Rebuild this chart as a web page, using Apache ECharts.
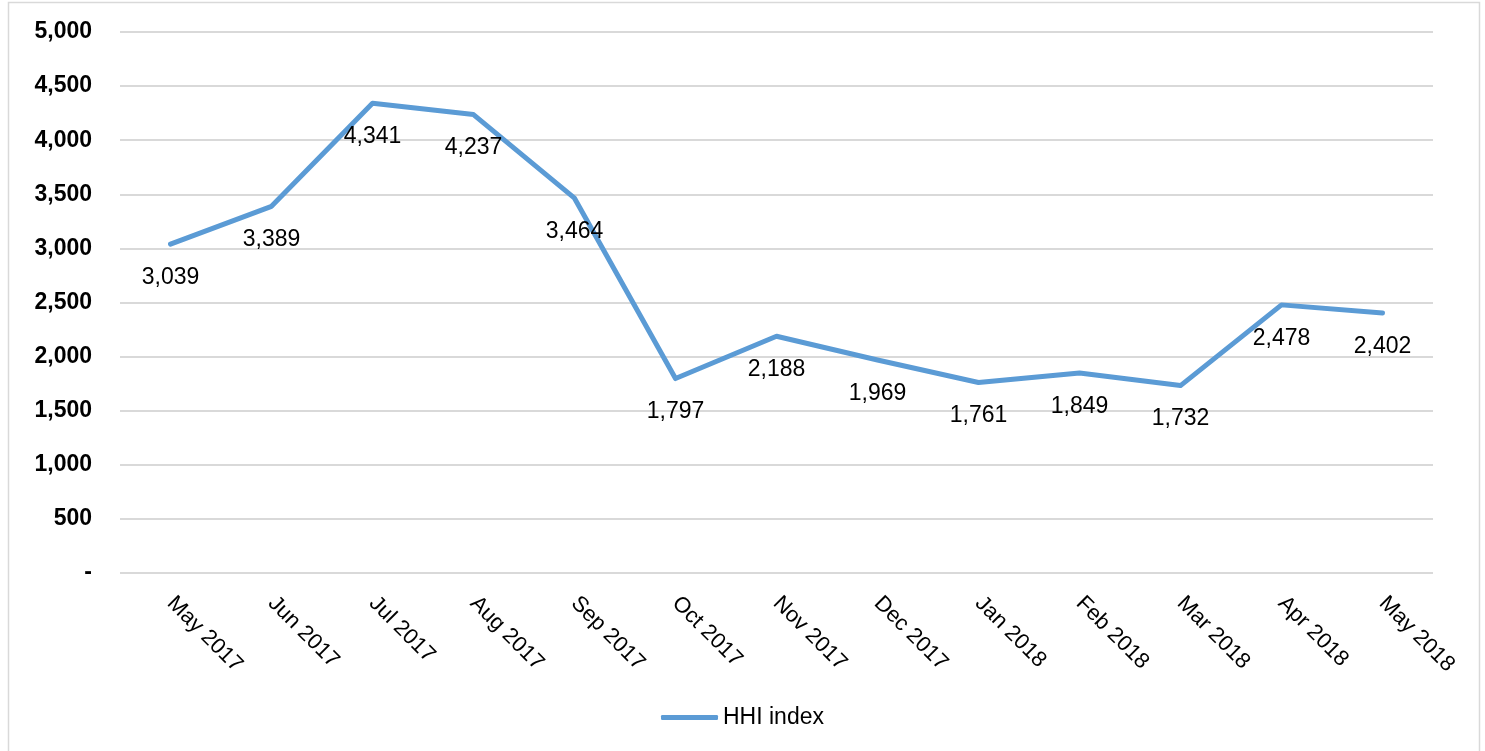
<!DOCTYPE html>
<html>
<head>
<meta charset="utf-8">
<script src="https://cdn.jsdelivr.net/npm/echarts@6/dist/echarts.min.js"></script>
<style>
  html, body { margin: 0; padding: 0; background: #fff; }
  #chart { width: 1485px; height: 751px; }
</style>
</head>
<body>
<div id="chart"></div>
<script>
// Monthly HHI index, May 2017 – May 2018
const months = ['May 2017', 'Jun 2017', 'Jul 2017', 'Aug 2017', 'Sep 2017', 'Oct 2017',
  'Nov 2017', 'Dec 2017', 'Jan 2018', 'Feb 2018', 'Mar 2018', 'Apr 2018', 'May 2018'];
const hhiValues = [3039, 3389, 4341, 4237, 3464, 1797, 2188, 1969, 1761, 1849, 1732, 2478, 2402];
const seriesName = 'HHI index';

const FONT = '"Liberation Sans", Arial, sans-serif';
const fmt = v => v === 0 ? '-' : v.toLocaleString('en-US');

const chart = echarts.init(document.getElementById('chart'));
chart.setOption({
  backgroundColor: '#ffffff',
  animation: false,
  graphic: [{
    type: 'rect',
    shape: { x: 8.5, y: 2.5, width: 1471, height: 760 },
    style: { fill: 'none', stroke: '#d9d9d9', lineWidth: 1.5 },
    silent: true
  }],
  grid: { left: 120, right: 52, top: 32, bottom: 178 },
  legend: {
    bottom: 17,
    left: 'center',
    itemWidth: 57,
    itemHeight: 5,
    itemGap: 10,
    icon: 'roundRect',
    textStyle: { fontFamily: FONT, fontSize: 23, color: '#000' },
    data: [seriesName]
  },
  xAxis: {
    type: 'category',
    data: months,
    boundaryGap: true,
    axisLine: { show: false },
    axisTick: { show: false },
    axisLabel: {
      rotate: -45,
      margin: 27,
      fontFamily: FONT,
      fontSize: 22,
      color: '#000',
      interval: 0
    }
  },
  yAxis: {
    type: 'value',
    min: 0,
    max: 5000,
    interval: 500,
    axisLine: { show: false },
    axisTick: { show: false },
    splitLine: { lineStyle: { color: '#d9d9d9', width: 2 } },
    axisLabel: {
      margin: 28,
      fontFamily: FONT,
      fontSize: 23,
      fontWeight: 'bold',
      color: '#000',
      formatter: fmt
    }
  },
  series: [{
    name: seriesName,
    type: 'line',
    data: hhiValues,
    symbol: 'circle',
    symbolSize: 0,
    showSymbol: true,
    lineStyle: { color: '#5b9bd5', width: 5, cap: 'round', join: 'round' },
    itemStyle: { color: '#5b9bd5' },
    label: {
      show: true,
      position: 'bottom',
      distance: 22,
      fontFamily: FONT,
      fontSize: 23,
      color: '#000',
      formatter: p => fmt(p.value)
    }
  }]
});
</script>
</body>
</html>
